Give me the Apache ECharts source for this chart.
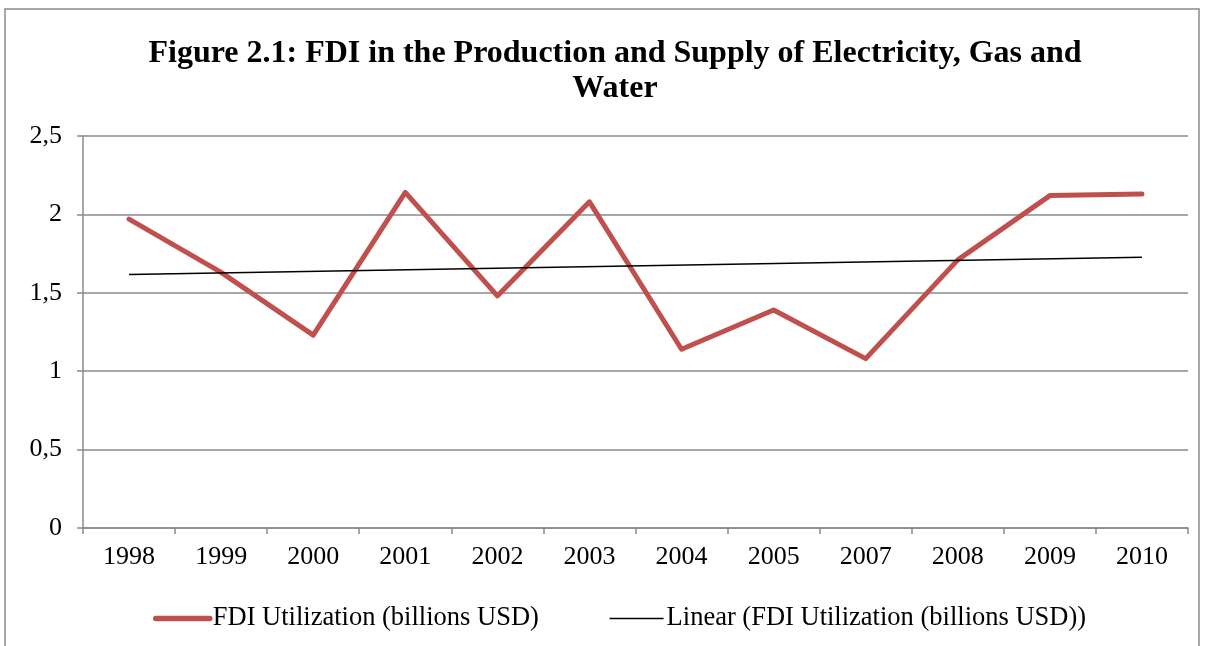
<!DOCTYPE html>
<html>
<head>
<meta charset="utf-8">
<script src="https://cdn.jsdelivr.net/npm/echarts@6/dist/echarts.min.js"></script>
<style>
  html, body { margin: 0; padding: 0; background: #fff; }
  #chart { width: 1206px; height: 646px; }
</style>
</head>
<body>
<div id="chart"></div>
<script>
// data
var years = ['1998', '1999', '2000', '2001', '2002', '2003', '2004', '2005', '2007', '2008', '2009', '2010'];
var fdiValues = [1.97, 1.63, 1.23, 2.14, 1.48, 2.08, 1.14, 1.39, 1.08, 1.71, 2.12, 2.13];
// trend line: only its two ends, the line is straight between them
var trendValues = [1.617, null, null, null, null, null, null, null, null, null, null, 1.726];
var yTicks = [0, 0.5, 1, 1.5, 2, 2.5];

var fdiName = 'FDI Utilization (billions USD)';
var trendName = 'Linear (FDI Utilization (billions USD))';
var serif = '"Liberation Serif", "Times New Roman", serif';
var gray = '#8a8a8a';

var myChart = echarts.init(document.getElementById('chart'));
var option = {
	backgroundColor: '#fff',
	animation: false,
	title: {
		text: 'Figure 2.1: FDI in the Production and Supply of Electricity, Gas and\nWater',
		left: 610,
		top: 31,
		textAlign: 'center',
		textStyle: {
			fontFamily: serif,
			fontWeight: 'bold',
			fontSize: 32,
			lineHeight: 35,
			color: '#000'
		}
	},
	graphic: [{
		type: 'rect',
		shape: { x: 5, y: 9, width: 1194, height: 700 },
		style: { fill: 'none', stroke: gray, lineWidth: 1.5 },
		silent: true
	}],
	legend: {
		top: 600,
		left: 148,
		itemWidth: 54,
		itemHeight: 14,
		itemGap: 70,
		textStyle: { fontFamily: serif, fontSize: 26.5, color: '#000', padding: [0, 0, 0, -2] },
		data: [
			{ name: fdiName, itemStyle: { opacity: 0 }, lineStyle: { width: 5.5, cap: 'round' } },
			{ name: trendName, itemStyle: { opacity: 0 }, lineStyle: { width: 1.5 } }
		]
	},
	grid: {
		left: 83,
		right: 18,
		top: 136,
		bottom: 118
	},
	xAxis: {
		type: 'category',
		data: years,
		boundaryGap: true,
		axisLine: { lineStyle: { color: gray, width: 1.5 } },
		axisTick: { show: true, length: 6, alignWithLabel: false, lineStyle: { color: gray, width: 1.5 } },
		axisLabel: { fontFamily: serif, fontSize: 26, color: '#000', margin: 16 },
		splitLine: { show: false }
	},
	yAxis: {
		type: 'value',
		min: yTicks[0],
		max: yTicks[yTicks.length - 1],
		interval: 0.5,
		axisLine: { show: true, lineStyle: { color: gray, width: 1.5 } },
		axisTick: { show: true, length: 6, lineStyle: { color: gray, width: 1.5 } },
		axisLabel: {
			fontFamily: serif, fontSize: 26, color: '#000', margin: 21,
			formatter: function (v) { return String(v).replace('.', ','); }
		},
		splitLine: { show: true, lineStyle: { color: gray, width: 1.5 } }
	},
	series: [{
		name: fdiName,
		type: 'line',
		data: fdiValues,
		symbol: 'none',
		color: '#c0504d',
		lineStyle: { color: '#c0504d', width: 5, cap: 'round', join: 'round' },
		z: 3
	}, {
		name: trendName,
		type: 'line',
		data: trendValues,
		connectNulls: true,
		symbol: 'none',
		color: '#000',
		lineStyle: { color: '#000', width: 1.5 },
		z: 4
	}]
};
myChart.setOption(option);
</script>
</body>
</html>
